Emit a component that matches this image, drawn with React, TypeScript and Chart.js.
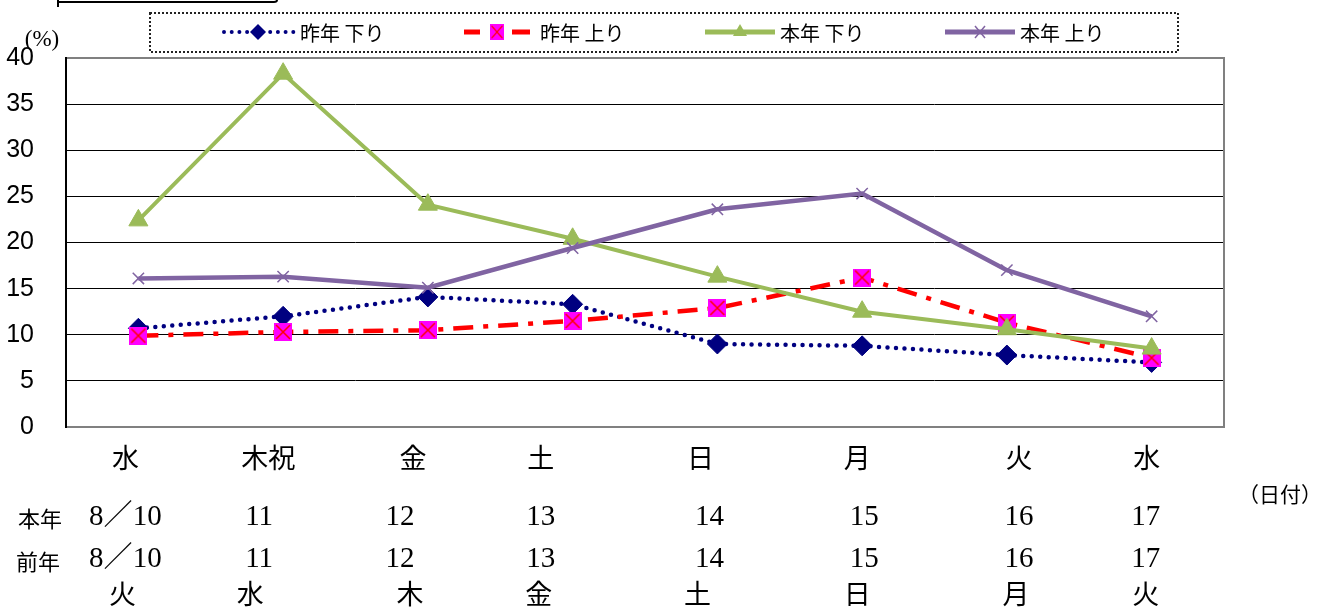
import React, { useEffect, useRef } from 'react';
import { Chart, registerables } from 'chart.js';

Chart.register(...registerables);

// ---------- data ----------
const categories = ['8/10', '11', '12', '13', '14', '15', '16', '17'];
const thisYearWeekdays = ['水', '木祝', '金', '土', '日', '月', '火', '水'];
const thisYearDates = ['8／10', '11', '12', '13', '14', '15', '16', '17'];
const lastYearDates = ['8／10', '11', '12', '13', '14', '15', '16', '17'];
const lastYearWeekdays = ['火', '水', '木', '金', '土', '日', '月', '火'];

const lastYearDown = [10.7, 12.0, 14.1, 13.3, 9.0, 8.8, 7.8, 7.0];
const lastYearUp = [9.9, 10.3, 10.5, 11.5, 12.9, 16.2, 11.3, 7.5];
const thisYearDown = [22.4, 38.3, 24.1, 20.4, 16.3, 12.5, 10.6, 8.5];
const thisYearUp = [16.1, 16.3, 15.1, 19.4, 23.6, 25.3, 17.0, 12.0];

const seriesNames = ['昨年 下り', '昨年 上り', '本年 下り', '本年 上り'];
const yMin = 0;
const yMax = 40;
const yStep = 5;

// ---------- layout / style ----------
const W = 1332;
const H = 610;
const NAVY = '#000080';
const RED = '#FF0000';
const MAGENTA = '#FF00FF';
const GREEN = '#9BBB59';
const PURPLE = '#8064A2';
const NUDGE_ROW1 = [-13, -15, -15, -32, -17, -5, 12, -5];
const NUDGE_DATES = [-13, -24, -28, -32, -8, 2, 12, -6];
const NUDGE_ROW4 = [-16, -33, -18, -34, -20, -5, 9, -6];
const SERIF = "'Liberation Serif', 'Noto Sans CJK JP', serif";
const GOTHIC = "'Noto Sans CJK JP', 'Liberation Sans', sans-serif";

function makeSquareX(size: number): HTMLCanvasElement {
  const c = document.createElement('canvas');
  c.width = size;
  c.height = size;
  const g = c.getContext('2d')!;
  g.fillStyle = MAGENTA;
  g.fillRect(0, 0, size, size);
  g.strokeStyle = RED;
  g.lineWidth = 1.5;
  g.beginPath();
  g.moveTo(2, 2);
  g.lineTo(size - 2, size - 2);
  g.moveTo(size - 2, 2);
  g.lineTo(2, size - 2);
  g.stroke();
  return c;
}

export default function App() {
  const ref = useRef<HTMLCanvasElement | null>(null);

  useEffect(() => {
    if (!ref.current) return;
    const squareX = makeSquareX(18);

    const overlay = {
      id: 'overlay',
      beforeDatasetsDraw(chart: any) {
        const ctx = chart.ctx;
        const { left, right, top, bottom } = chart.chartArea;
        ctx.save();
        ctx.strokeStyle = '#808080';
        ctx.lineWidth = 2;
        ctx.strokeRect(left, top, right - left, bottom - top);
        ctx.strokeStyle = '#000';
        ctx.beginPath();
        ctx.moveTo(left, top - 1);
        ctx.lineTo(left, bottom + 1);
        ctx.stroke();
        ctx.restore();
      },
      afterDraw(chart: any) {
        const ctx = chart.ctx;
        const xs = chart.scales.x;
        ctx.save();

        // top-left box fragment
        ctx.strokeStyle = '#000';
        ctx.lineWidth = 2;
        ctx.beginPath();
        ctx.moveTo(58, 0);
        ctx.lineTo(58, 7);
        ctx.moveTo(58, 2);
        ctx.lineTo(274, 2);
        ctx.quadraticCurveTo(277, 2, 277, 0);
        ctx.stroke();

        // legend box
        ctx.lineWidth = 2;
        ctx.setLineDash([2, 2]);
        ctx.strokeStyle = '#222';
        ctx.strokeRect(150, 13, 1028, 39);
        ctx.setLineDash([]);

        const ly = 32;
        // series 1: navy dotted + diamond
        ctx.strokeStyle = NAVY;
        ctx.lineWidth = 4;
        ctx.lineCap = 'round';
        ctx.setLineDash([0, 7.7]);
        ctx.beginPath();
        ctx.moveTo(224, ly);
        ctx.lineTo(295, ly);
        ctx.stroke();
        ctx.setLineDash([]);
        ctx.lineCap = 'butt';
        ctx.fillStyle = NAVY;
        ctx.beginPath();
        ctx.moveTo(258, ly - 8);
        ctx.lineTo(266, ly);
        ctx.lineTo(258, ly + 8);
        ctx.lineTo(250, ly);
        ctx.closePath();
        ctx.fill();

        // series 2: red dash + square
        ctx.strokeStyle = RED;
        ctx.lineWidth = 5;
        ctx.beginPath();
        ctx.moveTo(464, ly);
        ctx.lineTo(480, ly);
        ctx.moveTo(512, ly);
        ctx.lineTo(530, ly);
        ctx.stroke();
        ctx.drawImage(squareX, 490, ly - 8, 14, 16);

        // series 3: green + triangle
        ctx.strokeStyle = GREEN;
        ctx.lineWidth = 5;
        ctx.beginPath();
        ctx.moveTo(705, ly);
        ctx.lineTo(775, ly);
        ctx.stroke();
        ctx.fillStyle = GREEN;
        ctx.beginPath();
        ctx.moveTo(740, ly - 8);
        ctx.lineTo(747, ly + 4);
        ctx.lineTo(733, ly + 4);
        ctx.closePath();
        ctx.fill();

        // series 4: purple + cross
        ctx.strokeStyle = PURPLE;
        ctx.lineWidth = 5;
        ctx.beginPath();
        ctx.moveTo(945, ly);
        ctx.lineTo(1015, ly);
        ctx.stroke();
        ctx.lineWidth = 1.5;
        ctx.beginPath();
        ctx.moveTo(975, ly - 6);
        ctx.lineTo(985, ly + 6);
        ctx.moveTo(985, ly - 6);
        ctx.lineTo(975, ly + 6);
        ctx.stroke();

        ctx.fillStyle = '#000';
        ctx.font = `20px ${GOTHIC}`;
        ctx.textAlign = 'left';
        ctx.textBaseline = 'middle';
        const textX = [300, 540, 780, 1020];
        seriesNames.forEach((n, i) => ctx.fillText(n, textX[i], ly + 1));

        // (%)
        ctx.font = `23px ${SERIF}`;
        ctx.textAlign = 'center';
        ctx.fillText('(%)', 42, 40);

        // bottom rows
        categories.forEach((_, i) => {
          const px = xs.getPixelForValue(i);
          ctx.font = `27px ${SERIF}`;
          ctx.fillText(thisYearWeekdays[i], px + NUDGE_ROW1[i], 461);
          ctx.fillText(lastYearWeekdays[i], px + NUDGE_ROW4[i], 597);
          ctx.font = `29px ${SERIF}`;
          ctx.fillText(thisYearDates[i], px + NUDGE_DATES[i], 517);
          ctx.fillText(lastYearDates[i], px + NUDGE_DATES[i], 559);
        });

        ctx.font = `22px ${SERIF}`;
        ctx.fillText('本年', 40, 521);
        ctx.fillText('前年', 38, 564);
        ctx.font = `21px ${SERIF}`;
        ctx.fillText('（日付）', 1280, 496);

        ctx.restore();
      },
    };

    const chart = new Chart(ref.current, {
      type: 'line',
      data: {
        labels: categories,
        datasets: [
          {
            label: seriesNames[0],
            data: lastYearDown,
            borderColor: NAVY,
            backgroundColor: NAVY,
            borderWidth: 4.5,
            borderDash: [0, 8.5],
            borderCapStyle: 'round',
            pointStyle: 'rectRot',
            pointRadius: 10,
            pointBorderWidth: 1,
            pointBorderColor: NAVY,
            pointBackgroundColor: NAVY,
            tension: 0,
            order: 4,
          },
          {
            label: seriesNames[1],
            data: lastYearUp,
            borderColor: RED,
            backgroundColor: MAGENTA,
            borderWidth: 4.5,
            borderDash: [20, 10, 5, 10],
            pointStyle: squareX as any,
            pointRadius: 9,
            tension: 0,
            order: 3,
          },
          {
            label: seriesNames[2],
            data: thisYearDown,
            borderColor: GREEN,
            backgroundColor: GREEN,
            borderWidth: 4,
            pointStyle: 'triangle',
            pointRadius: 11,
            pointBorderWidth: 1,
            pointBorderColor: GREEN,
            pointBackgroundColor: GREEN,
            tension: 0,
            order: 2,
          },
          {
            label: seriesNames[3],
            data: thisYearUp,
            borderColor: PURPLE,
            backgroundColor: PURPLE,
            borderWidth: 4.5,
            pointStyle: 'crossRot',
            pointRadius: 8,
            pointBorderWidth: 1.5,
            pointBorderColor: PURPLE,
            tension: 0,
            order: 1,
          },
        ],
      },
      options: {
        animation: false,
        responsive: false,
        layout: { padding: { top: 58, right: 108, left: 0, bottom: 0 } },
        plugins: {
          legend: { display: false },
          tooltip: { enabled: false },
          title: { display: false },
        },
        scales: {
          x: {
            offset: true,
            grid: { display: false },
            border: { display: false },
            ticks: { display: false },
            afterFit: (s: any) => {
              s.height = 183;
            },
          },
          y: {
            min: yMin,
            max: yMax,
            ticks: {
              stepSize: yStep,
              color: '#000',
              font: { family: "'Liberation Sans', Arial, sans-serif", size: 25 },
              padding: 32,
            },
            grid: { color: '#000', lineWidth: 1, drawTicks: false },
            border: { display: false },
            afterFit: (s: any) => {
              s.width = 66;
            },
          },
        },
      },
      plugins: [overlay],
    } as any);

    return () => chart.destroy();
  }, []);

  return (
    <div style={{ position: 'absolute', left: 0, top: 0, width: W, height: H, background: '#fff' }}>
      <canvas ref={ref} width={W} height={H} style={{ width: W, height: H, display: 'block' }} />
    </div>
  );
}
